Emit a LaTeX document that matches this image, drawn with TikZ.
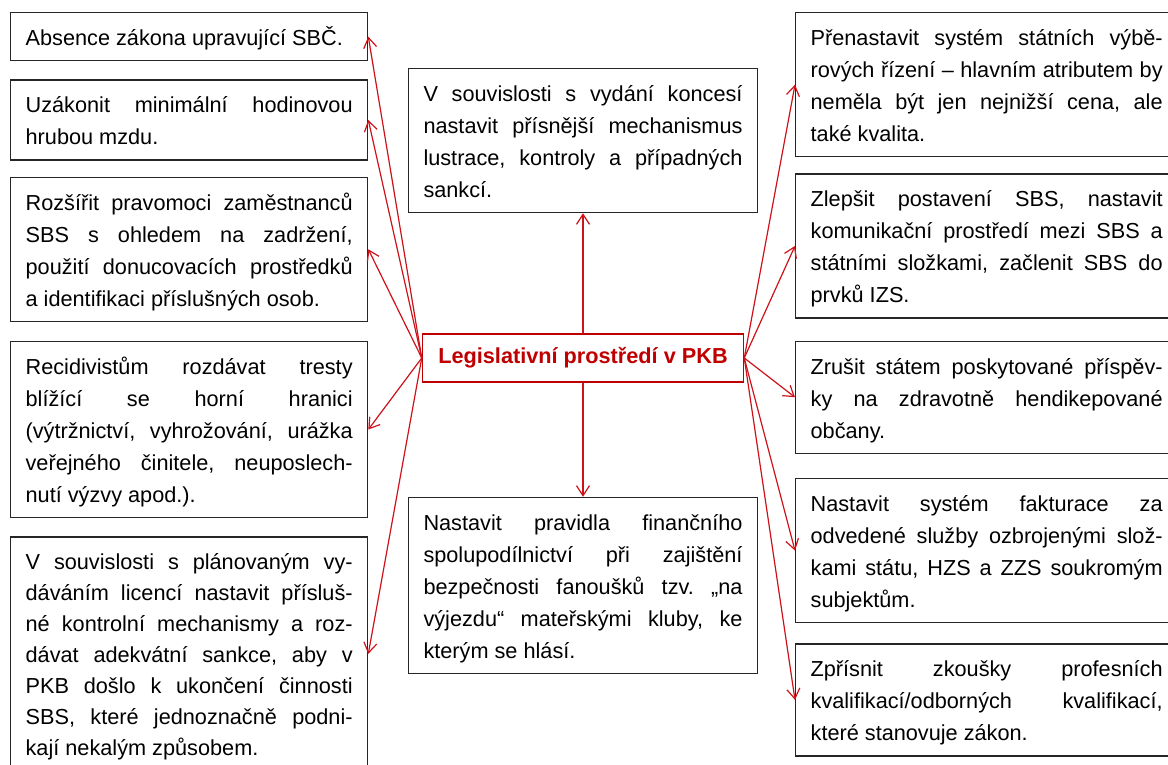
\documentclass[tikz,border=0pt]{standalone}
\usepackage{fontspec}
\setmainfont{Liberation Sans}
\usetikzlibrary{positioning, arrows.meta}
\definecolor{legred}{RGB}{192,0,0}
\definecolor{arrred}{RGB}{206,18,26}
\tolerance=10000 \hbadness=10000 \hyphenpenalty=10000 \frenchspacing
\newcommand{\boxtxt}[1]{\rule{0pt}{24pt}#1\rule[-6pt]{0pt}{6pt}}
\tikzset{legbox/.style={draw=black!85, line width=1.3pt, align=justify, inner xsep=15pt, inner ysep=9pt, font=\fontsize{21.7}{32}\selectfont}}
\tikzset{lbox/.style={legbox, text width=327pt}}
\tikzset{mbox/.style={legbox, text width=319pt}}
\tikzset{rbox/.style={legbox, text width=352pt}}
\tikzset{legmain/.style={draw=legred, line width=1.5pt, text=legred, font=\fontsize{21.7}{26}\selectfont\bfseries, minimum width=321pt, minimum height=48pt, inner sep=0pt}}
\tikzset{legarr/.style={draw=arrred, line width=1.2pt, -{Straight Barb[length=10pt,width=13pt]}}}

\begin{document}
\begin{tikzpicture}[x=1pt, y=-1pt]
	\useasboundingbox (0,0) rectangle (1168,764);
	%
	\node[legmain] (C) at (583,358) {Legislativní prostředí v PKB};
	\node[mbox, above=120pt of C] (T) {\boxtxt{V souvislosti s vydání koncesí\linebreak nastavit přísnější mechanismus\linebreak lustrace, kontroly a případných\linebreak sankcí.}};
	\node[mbox, below=114pt of C] (B) {\boxtxt{Nastavit pravidla finančního\linebreak spolupodílnictví při zajištění\linebreak bezpečnosti fanoušků tzv. „na\linebreak výjezdu“ mateřskými kluby, ke\linebreak kterým se hlásí.}};
	%
	\node[lbox, anchor=north west] (L1) at (10,12) {\boxtxt{Absence zákona upravující SBČ.}};
	\node[lbox, below=18pt of L1] (L2) {\boxtxt{Uzákonit minimální hodinovou\linebreak hrubou mzdu.}};
	\node[lbox, below=16pt of L2] (L3) {\boxtxt{Rozšířit pravomoci zaměstnanců\linebreak SBS s ohledem na zadržení,\linebreak použití donucovacích prostředků\linebreak a identifikaci příslušných osob.}};
	\node[lbox, below=19pt of L3] (L4) {\boxtxt{Recidivistům rozdávat tresty\linebreak blížící se horní hranici\linebreak (výtržnictví, vyhrožování, urážka\linebreak veřejného činitele, neuposlech-\linebreak nutí výzvy apod.).}};
	\node[lbox, below=18pt of L4, font=\fontsize{21.7}{31}\selectfont] (L5) {\boxtxt{V souvislosti s plánovaným vy-\linebreak dáváním licencí nastavit přísluš-\linebreak né kontrolní mechanismy a roz-\linebreak dávat adekvátní sankce, aby v\linebreak PKB došlo k ukončení činnosti\linebreak SBS, které jednoznačně podni-\linebreak kají nekalým způsobem.}};
	%
	\node[rbox, anchor=north west] (R1) at (795,12) {\boxtxt{Přenastavit systém státních výbě-\linebreak rových řízení – hlavním atributem by\linebreak neměla být jen nejnižší cena, ale\linebreak také kvalita.}};
	\node[rbox, below=16pt of R1] (R2) {\boxtxt{Zlepšit postavení SBS, nastavit\linebreak komunikační prostředí mezi SBS a\linebreak státními složkami, začlenit SBS do\linebreak prvků IZS.}};
	\node[rbox, below=22pt of R2] (R3) {\boxtxt{Zrušit státem poskytované příspěv-\linebreak ky na zdravotně hendikepované\linebreak občany.}};
	\node[rbox, below=24pt of R3] (R4) {\boxtxt{Nastavit systém fakturace za\linebreak odvedené služby ozbrojenými slož-\linebreak kami státu, HZS a ZZS soukromým\linebreak subjektům.}};
	\node[rbox, below=20pt of R4] (R5) {\boxtxt{Zpřísnit zkoušky profesních\linebreak kvalifikací/odborných kvalifikací,\linebreak které stanovuje zákon.}};
	%
	\draw[legarr] (C) -- (T);
	\draw[legarr] (C) -- (B);
	\foreach \n in {L1,L2,L3,L4,L5}
		\draw[legarr] (C.west) -- (\n.east);
	\foreach \n in {R1,R2,R3,R4,R5}
		\draw[legarr] (C.east) -- (\n.west);
\end{tikzpicture}
\end{document}
